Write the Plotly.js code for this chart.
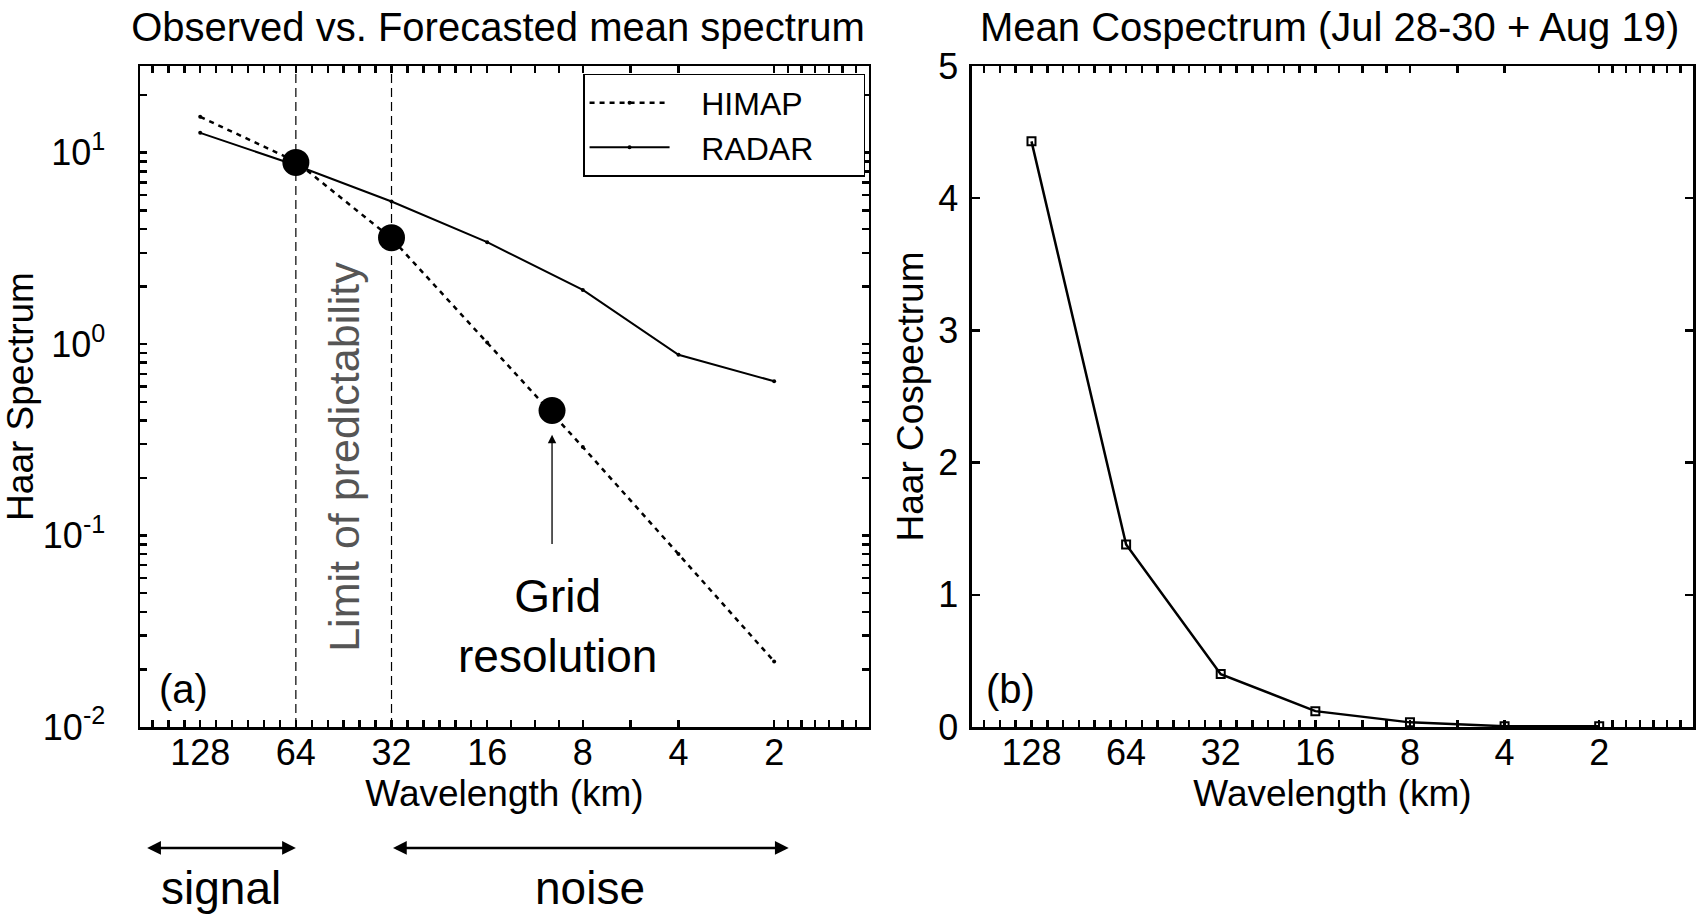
<!DOCTYPE html>
<html>
<head>
<meta charset="utf-8">
<script src="https://cdn.plot.ly/plotly-3.0.1.min.js"></script>
<style>
html, body { margin: 0; padding: 0; background: #ffffff; }
#chart { width: 1699px; height: 915px; }
</style>
</head>
<body>
<div id="chart"></div>
<script>
// ---------- data ----------
const wavelengths = [128, 64, 32, 16, 8, 4, 2];
const xTickLabels = ['128', '64', '32', '16', '8', '4', '2'];
const himapSpectrum = [15.4, 9.0, 3.57, 1.02, 0.29, 0.08, 0.022];
const radarSpectrum = [12.7, 8.6, 5.56, 3.41, 1.92, 0.88, 0.64];
const meanCospectrum = [4.43, 1.38, 0.40, 0.12, 0.035, 0.006, 0.005];
const highlightWavelengths = [64, 32, 10];
const highlightSpectrum = [8.9, 3.6, 0.45];
const limitLines = [64, 32];
const gridResolution = 10;
const gridArrowSpectrum = [0.0887, 0.336];
const logTickVals = [0.01, 0.1, 1, 10];
const logTickText = ['10<sup>-2</sup>', '10<sup>-1</sup>', '10<sup>0</sup>', '10<sup>1</sup>'];
const cospecTickVals = [0, 1, 2, 3, 4, 5];
const signalBand = [190, 64];
const noiseBand = [32, 1.8];

// ---------- helpers ----------
const FONT = 'Liberation Sans, Arial, Helvetica, sans-serif';
const NB = '\u00a0';
function octaveMinor(hi, n) {
  const out = [];
  for (let k = 1; k < n; k++) out.push(hi * Math.pow(2, -k / n));
  return out;
}
const minorX = [].concat(
  octaveMinor(256, 6), octaveMinor(128, 6), octaveMinor(64, 6), octaveMinor(32, 6),
  octaveMinor(16, 4), octaveMinor(8, 2), octaveMinor(2, 7)
);
const minorY = [];
[0.01, 0.1, 1, 10].forEach(d => { for (let m = 2; m <= 9; m++) minorY.push(d * m); });

// major + minor ticks on one axis (minor ones carry no label)
const xAllTicks = wavelengths.concat(minorX);
const xAllText = xTickLabels.concat(minorX.map(() => ''));
const yAllTicks = logTickVals.concat(minorY);
const yAllText = logTickText.concat(minorY.map(() => ''));

const xRange = [Math.log10(198), Math.log10(1.006)];
const yRangeLog = [-2, 1.453];

function xAxisBase(domain, anchor) {
  return {
    domain: domain, anchor: anchor, type: 'log', range: xRange,
    tickmode: 'array', tickvals: xAllTicks, ticktext: xAllText,
    ticks: 'inside', ticklen: 7, tickwidth: 2.5, tickcolor: '#000',
    showline: true, linewidth: 2.5, linecolor: '#000', mirror: 'ticks',
    showgrid: false, zeroline: false,
    tickfont: { family: FONT, size: 36, color: '#000' },
    ticklabelstandoff: -8,
    title: { text: 'Wavelength (km)', font: { family: FONT, size: 37, color: '#000' }, standoff: 4 }
  };
}

const traces = [
  { x: wavelengths, y: himapSpectrum, name: NB + NB + NB + 'HIMAP', type: 'scatter', mode: 'lines+markers',
    line: { color: '#000', width: 2.5, dash: '5px,5px' }, marker: { color: '#000', size: 4 },
    xaxis: 'x', yaxis: 'y' },
  { x: wavelengths, y: radarSpectrum, name: NB + NB + NB + 'RADAR' + NB + NB + NB + NB + NB, type: 'scatter', mode: 'lines+markers',
    line: { color: '#000', width: 2 }, marker: { color: '#000', size: 4 },
    xaxis: 'x', yaxis: 'y' },
  { x: highlightWavelengths, y: highlightSpectrum, type: 'scatter', mode: 'markers',
    marker: { color: '#000', size: 27 }, showlegend: false, xaxis: 'x', yaxis: 'y' },
  { x: wavelengths, y: meanCospectrum, name: 'Mean Cospectrum', type: 'scatter', mode: 'lines+markers',
    line: { color: '#000', width: 2.5 },
    marker: { symbol: 'square-open', color: '#000', size: 8, line: { width: 2, color: '#000' } },
    showlegend: false, xaxis: 'x2', yaxis: 'y2' }
];

const shapes = limitLines.map(w => ({
  type: 'line', xref: 'x', yref: 'y domain', x0: w, x1: w, y0: 0, y1: 1,
  line: { color: '#000', width: 1.2, dash: '9px,5px' }, layer: 'below'
}));

function bandArrow(band) {
  return {
    xref: 'x', yref: 'paper', x: Math.log10(band[1]), y: -0.183,
    axref: 'x', ayref: 'pixel', ax: Math.log10(band[0]), ay: 0,
    text: '', showarrow: true, arrowside: 'end+start', arrowhead: 2,
    arrowsize: 1.1, arrowwidth: 2.5, arrowcolor: '#000', standoff: 0, startstandoff: 0
  };
}
function bandLabel(band, txt) {
  return {
    xref: 'x', yref: 'paper', x: (Math.log10(band[0]) + Math.log10(band[1])) / 2, y: -0.2436,
    text: txt, showarrow: false, xanchor: 'center', yanchor: 'middle',
    font: { family: FONT, size: 46, color: '#000' }
  };
}

const annotations = [
  { xref: 'paper', yref: 'paper', x: 0.766, y: 1.059, xanchor: 'center', yanchor: 'middle',
    text: 'Mean Cospectrum (Jul 28-30 + Aug 19)', showarrow: false,
    font: { family: FONT, size: 40, color: '#000' } },
  { xref: 'x domain', yref: 'y domain', x: 0.023, y: 0.0575, xanchor: 'left', yanchor: 'middle',
    text: '(a)', showarrow: false, font: { family: FONT, size: 40, color: '#000' } },
  { xref: 'x2 domain', yref: 'y2 domain', x: 0.0166, y: 0.0575, xanchor: 'left', yanchor: 'middle',
    text: '(b)', showarrow: false, font: { family: FONT, size: 40, color: '#000' } },
  { xref: 'x', yref: 'y', x: (Math.log10(limitLines[0]) + Math.log10(limitLines[1])) / 2, y: Math.log10(0.257),
    text: 'Limit of predictability', textangle: -90, showarrow: false, xanchor: 'center', yanchor: 'middle',
    font: { family: FONT, size: 43, color: '#555' } },
  { xref: 'x', yref: 'y', x: Math.log10(gridResolution), y: Math.log10(gridArrowSpectrum[1]),
    axref: 'x', ayref: 'y', ax: Math.log10(gridResolution), ay: Math.log10(gridArrowSpectrum[0]),
    text: '', showarrow: true, arrowhead: 2, arrowsize: 1.3, arrowwidth: 1.3, arrowcolor: '#000', standoff: 0 },
  { xref: 'x', yref: 'y', x: Math.log10(gridResolution), y: Math.log10(0.0335), xshift: 5,
    text: 'Grid<br>resolution', showarrow: false, xanchor: 'center', yanchor: 'middle',
    font: { family: FONT, size: 46, color: '#000' } },
  bandArrow(signalBand), bandArrow(noiseBand),
  bandLabel(signalBand, 'signal'), bandLabel(noiseBand, 'noise')
];

const layout = {
  width: 1699, height: 915,
  margin: { l: 140, r: 6, t: 66, b: 188 },
  paper_bgcolor: '#fff', plot_bgcolor: '#fff',
  font: { family: FONT, color: '#000' },
  title: { text: 'Observed vs. Forecasted mean spectrum', x: 0.2931, xanchor: 'center',
    y: 0.9705, yanchor: 'middle', yref: 'container', font: { family: FONT, size: 40, color: '#000' } },
  showlegend: true,
  legend: {
    x: 0.2853, y: 0.988, xanchor: 'left', yanchor: 'top',
    bgcolor: '#fff', bordercolor: '#000', borderwidth: 1.5,
    font: { family: FONT, size: 32, color: '#000' }, itemwidth: 80, tracegroupgap: 0
  },
  xaxis: xAxisBase([0, 0.4694], 'y'),
  yaxis: {
    type: 'log', range: yRangeLog, anchor: 'x',
    tickmode: 'array', tickvals: yAllTicks, ticktext: yAllText,
    ticks: 'inside', ticklen: 7, tickwidth: 2.5, tickcolor: '#000',
    showline: true, linewidth: 2.5, linecolor: '#000', mirror: 'ticks',
    showgrid: false, zeroline: false,
    tickfont: { family: FONT, size: 36, color: '#000' },
    ticklabelstandoff: 25, automargin: true,
    title: { text: 'Haar Spectrum', font: { family: FONT, size: 37, color: '#000' }, standoff: 0 }
  },
  xaxis2: xAxisBase([0.5357, 1], 'y2'),
  yaxis2: {
    type: 'linear', range: [0, 5], anchor: 'x2',
    tickmode: 'array', tickvals: cospecTickVals,
    ticks: 'inside', ticklen: 8, tickwidth: 2.5, tickcolor: '#000',
    showline: true, linewidth: 2.5, linecolor: '#000', mirror: 'ticks',
    showgrid: false, zeroline: false,
    tickfont: { family: FONT, size: 36, color: '#000' },
    ticklabelstandoff: 4,
    title: { text: 'Haar Cospectrum', font: { family: FONT, size: 37, color: '#000' }, standoff: 4 }
  },
  shapes: shapes,
  annotations: annotations
};

Plotly.newPlot('chart', traces, layout, { displayModeBar: false, staticPlot: true });
</script>
</body>
</html>
